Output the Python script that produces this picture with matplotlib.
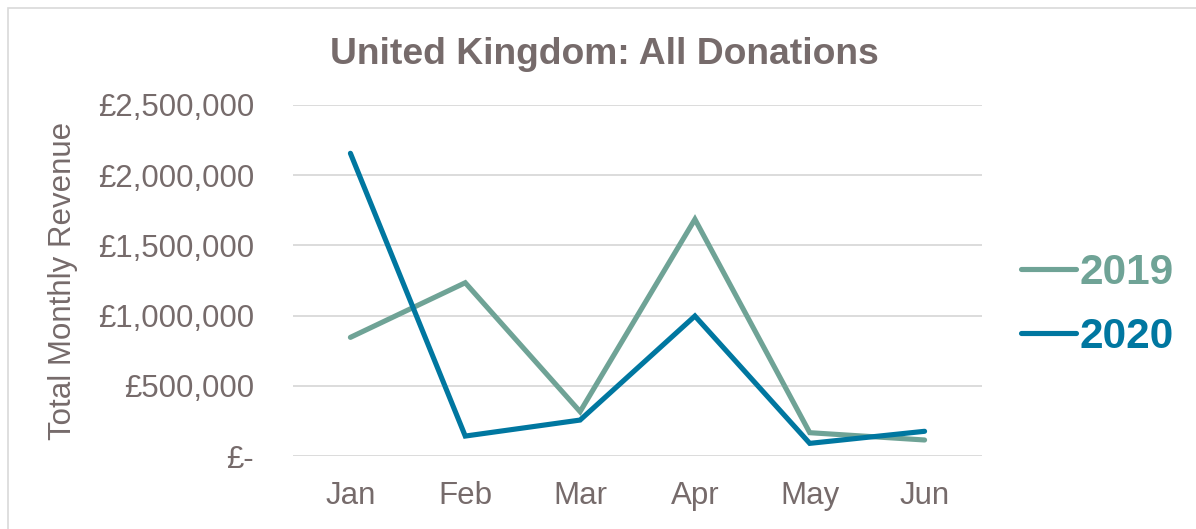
import matplotlib
matplotlib.use("Agg")
import matplotlib.pyplot as plt
from matplotlib.ticker import FuncFormatter, MultipleLocator
from matplotlib.patches import Rectangle

months = ["Jan", "Feb", "Mar", "Apr", "May", "Jun"]
revenue_2019 = [845000, 1234000, 316000, 1686000, 166000, 114000]
revenue_2020 = [2156000, 142000, 256000, 997000, 90000, 176000]
series_names = ["2019", "2020"]
series_colors = ["#6FA396", "#0077A0"]

text_color = "#766B6B"
grid_color = "#D9D9D9"
plt.rcParams["font.family"] = ["Liberation Sans", "DejaVu Sans"]

fig = plt.figure(figsize=(11.96, 5.29), dpi=100)
W, H = 1196, 529

# outer chart frame
fig.add_artist(Rectangle((8 / W, -0.1), 1.2, 1 - 8 / H + 0.1,
                         transform=fig.transFigure, fill=False,
                         edgecolor="#D9D9D9", linewidth=1.2))

ax_left, ax_right, ax_top, ax_bottom = 293, 982, 105, 456
ax = fig.add_axes([ax_left / W, 1 - ax_bottom / H,
                   (ax_right - ax_left) / W, (ax_bottom - ax_top) / H])

x = range(len(months))
lines = []
for vals, name, col in zip([revenue_2019, revenue_2020], series_names, series_colors):
    ln, = ax.plot(x, vals, color=col, linewidth=3.7, solid_capstyle="round",
                  solid_joinstyle="miter", label=name, zorder=3)
    lines.append(ln)

ax.set_xlim(-0.5, len(months) - 0.5)
ax.set_ylim(0, 2500000)
ax.yaxis.set_major_locator(MultipleLocator(500000))


def gbp(v, pos):
    if abs(v) < 1:
        return "£-"
    return "£{:,.0f}".format(v)


ax.yaxis.set_major_formatter(FuncFormatter(gbp))
ax.set_xticks(list(x))
ax.set_xticklabels(months)
ax.tick_params(axis="both", length=0, labelsize=22.5, labelcolor=text_color)
ax.tick_params(axis="y", pad=28)
ax.tick_params(axis="x", pad=18)

ax.grid(axis="y", color=grid_color, linewidth=1.3)
ax.set_axisbelow(True)
for s in ax.spines.values():
    s.set_visible(False)

ax.set_ylabel("Total Monthly Revenue", fontsize=22.5, color=text_color)
ax.yaxis.set_label_coords((78 - ax_left) / (ax_right - ax_left),
                          (ax_bottom - 281) / (ax_bottom - ax_top))

fig.text(604 / W, 1 - 63.5 / H, "United Kingdom: All Donations", ha="center",
         va="baseline", fontsize=26.8, fontweight="bold", color=text_color)

leg = fig.legend(handles=lines, labels=series_names, loc="center left",
                 bbox_to_anchor=(1021 / W, 1 - 304.7 / H),
                 bbox_transform=fig.transFigure, frameon=False,
                 prop={"weight": "bold", "size": 30.5}, handlelength=1.3,
                 handletextpad=0.08, labelspacing=0.57, borderpad=0,
                 borderaxespad=0, labelcolor="linecolor")

fig.savefig("out.png", dpi=100, facecolor="white")
